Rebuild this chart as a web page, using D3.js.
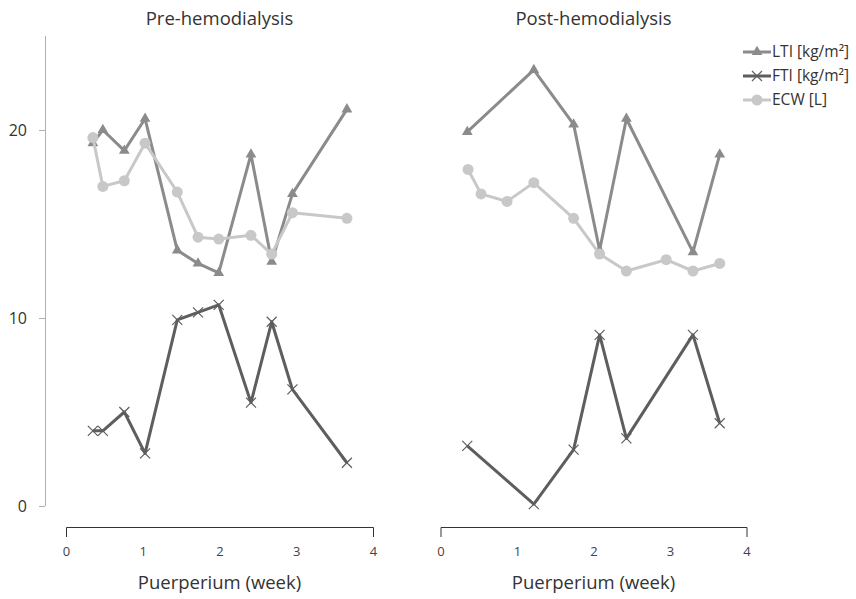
<!DOCTYPE html>
<html>
<head>
<meta charset="utf-8">
<script src="https://cdn.jsdelivr.net/npm/d3@7"></script>
<style>
  body { margin: 0; background: #fff; }
  text { font-family: "Open Sans", "Noto Sans", sans-serif; }
</style>
</head>
<body>
<div id="chart"></div>
<script>
// pre-hemodialysis
const preWeek = [0.35, 0.48, 0.76, 1.03, 1.45, 1.72, 1.99, 2.41, 2.68, 2.95, 3.66];
const preLTI = [19.3, 20.0, 18.9, 20.6, 13.6, 12.9, 12.4, 18.7, 13.0, 16.6, 21.1];
const preFTI = [4.0, 4.0, 5.0, 2.8, 9.9, 10.3, 10.7, 5.5, 9.8, 6.2, 2.3];
const preECW = [19.6, 17.0, 17.3, 19.3, 16.7, 14.3, 14.2, 14.4, 13.4, 15.6, 15.3];

// post-hemodialysis
const postWeek = [0.35, 1.22, 1.74, 2.08, 2.43, 3.30, 3.65];
const postLTI = [19.9, 23.2, 20.3, 13.6, 20.6, 13.5, 18.7];
const postFTI = [3.2, 0.1, 3.0, 9.1, 3.6, 9.1, 4.4];
const postWeekECW = [0.36, 0.53, 0.87, 1.22, 1.74, 2.08, 2.43, 2.95, 3.30, 3.65];
const postECW = [17.9, 16.6, 16.2, 17.2, 15.3, 13.4, 12.5, 13.1, 12.5, 12.9];

const xTicks = [0, 1, 2, 3, 4];
const yTicks = [0, 10, 20];
const seriesNames = ['LTI [kg/m²]', 'FTI [kg/m²]', 'ECW [L]'];

const width = 856;
const height = 599;

const colors = { LTI: '#8b8b8d', FTI: '#5e5e60', ECW: '#c8c8c8' };

const svg = d3.select('#chart')
  .append('svg')
  .attr('width', width)
  .attr('height', height);

const y = d3.scaleLinear()
  .domain([0, 25])
  .range([506, 36]);

const panels = [
  {
    title: 'Pre-hemodialysis',
    range: [66, 373],
    series: [
      { key: 'LTI', xs: preWeek, ys: preLTI },
      { key: 'FTI', xs: preWeek, ys: preFTI },
      { key: 'ECW', xs: preWeek, ys: preECW }
    ]
  },
  {
    title: 'Post-hemodialysis',
    range: [440.5, 746.5],
    series: [
      { key: 'LTI', xs: postWeek, ys: postLTI },
      { key: 'FTI', xs: postWeek, ys: postFTI },
      { key: 'ECW', xs: postWeekECW, ys: postECW }
    ]
  }
];

// y axis only on the left panel
const yAxis = svg.append('g')
  .attr('transform', 'translate(45,0)')
  .call(d3.axisLeft(y).tickValues(yTicks).tickSize(6).tickSizeOuter(0).tickPadding(12));
yAxis.select('.domain').attr('stroke', '#b0b0b0').attr('d', `M0.5,${y(0)}V${y(25)}`);
yAxis.selectAll('.tick line').attr('stroke', '#b0b0b0');
yAxis.selectAll('.tick text').attr('font-size', '16px').attr('fill', '#333');

function drawMarker(g, key, cx, cy) {
  if (key === 'LTI') {
    g.append('path')
      .attr('d', d3.symbol(d3.symbolTriangle, 50)())
      .attr('transform', `translate(${cx},${cy})`)
      .attr('fill', colors.LTI);
  } else if (key === 'ECW') {
    g.append('circle')
      .attr('cx', cx).attr('cy', cy).attr('r', 5.5)
      .attr('fill', colors.ECW);
  } else {
    g.append('path')
      .attr('d', 'M-5,-5L5,5M-5,5L5,-5')
      .attr('transform', `translate(${cx},${cy})`)
      .attr('stroke', colors.FTI)
      .attr('stroke-width', 1.2)
      .attr('fill', 'none');
  }
}

panels.forEach(p => {
  const x = d3.scaleLinear().domain([0, 4]).range(p.range);
  const cx = (p.range[0] + p.range[1]) / 2;

  svg.append('text')
    .attr('x', cx).attr('y', 25)
    .attr('text-anchor', 'middle')
    .attr('font-size', '18.5px')
    .attr('fill', '#333')
    .text(p.title);

  const xAxis = svg.append('g')
    .attr('transform', 'translate(0,527)')
    .call(d3.axisBottom(x).tickValues(xTicks).tickFormat(d3.format('d'))
      .tickSize(0).tickSizeOuter(10).tickPadding(20));
  xAxis.select('.domain').attr('stroke', '#333');
  xAxis.selectAll('.tick text').attr('font-size', '13px').attr('fill', '#444');

  svg.append('text')
    .attr('x', cx).attr('y', 589)
    .attr('text-anchor', 'middle')
    .attr('font-size', '18.5px')
    .attr('fill', '#333')
    .text('Puerperium (week)');

  p.series.forEach(s => {
    const pts = s.xs.map((w, i) => [x(w), y(s.ys[i])]);
    const g = svg.append('g');
    g.append('path')
      .attr('d', d3.line()(pts))
      .attr('fill', 'none')
      .attr('stroke', colors[s.key])
      .attr('stroke-width', 3)
      .attr('stroke-linejoin', 'round');
    pts.forEach(pt => drawMarker(g, s.key, pt[0], pt[1]));
  });
});

// legend
const keys = ['LTI', 'FTI', 'ECW'];
const legend = svg.append('g').attr('transform', 'translate(743,52)');
keys.forEach((k, i) => {
  const row = legend.append('g').attr('transform', `translate(0,${i * 24})`);
  row.append('line')
    .attr('x1', 0).attr('x2', 28)
    .attr('stroke', colors[k]).attr('stroke-width', 3);
  drawMarker(row, k, 14, 0);
  row.append('text')
    .attr('x', 29).attr('dy', '0.35em')
    .attr('font-size', '15.5px')
    .attr('fill', '#333')
    .text(seriesNames[i]);
});
</script>
</body>
</html>
